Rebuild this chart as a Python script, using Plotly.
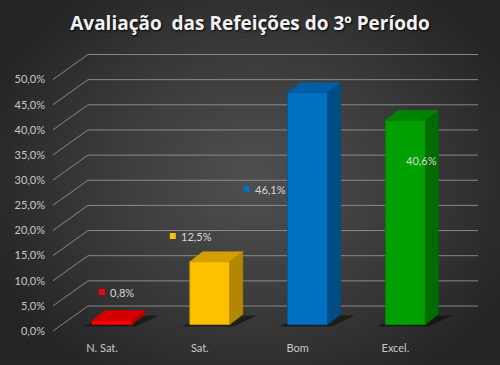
import base64, struct, zlib, math
import plotly.graph_objects as go

# ---------------- data ----------------
CATEGORIES = ["N. Sat.", "Sat.", "Bom", "Excel."]
VALUES = [0.8, 12.5, 46.1, 40.6]
VALUE_LABELS = ["0,8%", "12,5%", "46,1%", "40,6%"]
Y_TICKS = [0, 5, 10, 15, 20, 25, 30, 35, 40, 45, 50]
Y_TICK_LABELS = ["0,0%", "5,0%", "10,0%", "15,0%", "20,0%", "25,0%", "30,0%",
                 "35,0%", "40,0%", "45,0%", "50,0%"]
TITLE = "Avaliação  das Refeições do 3º Período"

# ---------------- styles ----------------
FRONT = ["#ff0000", "#ffc000", "#0070c0", "#00a000"]
TOP = ["#d40000", "#d4a000", "#005ea6", "#008400"]
SIDE = ["#b00000", "#b38800", "#004c85", "#006c00"]
EDGE = ["#c00000", "#c09000", "#005a9a", "#008000"]

W, H = 500, 365
PX_CAT, X0_PX = 97.8, 112.0      # pixels per category, pixel of category 0
PX_PCT, Y0_PX = 5.03, 324.5      # pixels per percent, pixel of 0 %
L, R, T, B = 53, 478, 52, 334    # plot area in pixels

def dx(px):
    return px / PX_CAT

def dy(px):
    return px / PX_PCT

x_range = [(L - X0_PX) / PX_CAT, (R - X0_PX) / PX_CAT]
y_range = [(Y0_PX - B) / PX_PCT, (Y0_PX - T) / PX_PCT]

BAR_W = dx(40)
DEPTH_X, DEPTH_Y = dx(13), dy(10)
FRONT_Y = dy(Y0_PX - 331)        # front-plane offset
BACK_Y = dy(Y0_PX - 306)         # back-wall offset
FRONT_X = (53 - X0_PX) / PX_CAT
BACK_X = (88 - X0_PX) / PX_CAT
RIGHT_X = (478 - X0_PX) / PX_CAT

# label anchor (legend-key square) positions, relative to category / in %
LABEL_DX = [dx(-10), dx(-37), dx(-61), dx(-7)]
LABEL_Y = [dy(Y0_PX - 292), dy(Y0_PX - 236), dy(Y0_PX - 189), dy(Y0_PX - 160)]

# ---------------- background gradient ----------------
def gradient_png(w, h):
    rows = []
    for j in range(h):
        row = bytearray([0])
        for i in range(w):
            px = (i + 0.5) * W / w
            py = (j + 0.5) * H / h
            d = math.sqrt(((px - 255) / 290) ** 2 + ((py - 180) / 240) ** 2)
            d = min(d, 1.0)
            c = int(round(78 - 42 * d ** 1.2))
            row.append(c)
        rows.append(bytes(row))
    raw = b"".join(rows)

    def chunk(tag, data):
        return (struct.pack(">I", len(data)) + tag + data +
                struct.pack(">I", zlib.crc32(tag + data) & 0xffffffff))
    png = b"\x89PNG\r\n\x1a\n"
    png += chunk(b"IHDR", struct.pack(">IIBBBBB", w, h, 8, 0, 0, 0, 0))
    png += chunk(b"IDAT", zlib.compress(raw, 9))
    png += chunk(b"IEND", b"")
    return "data:image/png;base64," + base64.b64encode(png).decode()

bg = gradient_png(125, 91)

fig = go.Figure()

# ---------------- gridlines (shapes below traces) ----------------
shapes = []
for v in Y_TICKS:
    shapes.append(dict(type="line", xref="x", yref="y", layer="below",
                       x0=FRONT_X, y0=v + FRONT_Y, x1=BACK_X, y1=v + BACK_Y,
                       line=dict(color="rgba(150,150,150,0.85)", width=1)))
    shapes.append(dict(type="line", xref="x", yref="y", layer="below",
                       x0=BACK_X, y0=v + BACK_Y, x1=RIGHT_X, y1=v + BACK_Y,
                       line=dict(color="rgba(150,150,150,0.85)", width=1)))

# shadows under bars
for i in range(len(VALUES)):
    xl = i - BAR_W / 2
    xr = i + BAR_W / 2
    path = (f"M {xl - dx(8)},{-dy(2)} L {xr + dx(4)},{-dy(2)} "
            f"L {xr + DEPTH_X + dx(14)},{DEPTH_Y - dy(1)} "
            f"L {xl + DEPTH_X},{DEPTH_Y - dy(1)} Z")
    shapes.append(dict(type="path", xref="x", yref="y", layer="below", path=path,
                       fillcolor="rgba(0,0,0,0.45)", line=dict(width=0)))

# ---------------- bars ----------------
fig.add_trace(go.Bar(
    x=list(range(len(VALUES))), y=VALUES, width=BAR_W,
    marker=dict(color=FRONT, line=dict(color=EDGE, width=1)),
    hoverinfo="skip", showlegend=False))

for i, v in enumerate(VALUES):
    xl = i - BAR_W / 2
    xr = i + BAR_W / 2
    # top face
    fig.add_trace(go.Scatter(
        x=[xl, xr, xr + DEPTH_X, xl + DEPTH_X, xl],
        y=[v, v, v + DEPTH_Y, v + DEPTH_Y, v],
        mode="lines", fill="toself", fillcolor=TOP[i],
        line=dict(color=TOP[i], width=0.5), hoverinfo="skip", showlegend=False))
    # side face
    fig.add_trace(go.Scatter(
        x=[xr, xr, xr + DEPTH_X, xr + DEPTH_X, xr],
        y=[0, v, v + DEPTH_Y, DEPTH_Y, 0],
        mode="lines", fill="toself", fillcolor=SIDE[i],
        line=dict(color=SIDE[i], width=0.5), hoverinfo="skip", showlegend=False))

# ---------------- data labels ----------------
label_x = [i + LABEL_DX[i] for i in range(len(VALUES))]
fig.add_trace(go.Scatter(
    x=label_x, y=LABEL_Y, mode="markers",
    marker=dict(symbol="square", size=6, color=FRONT),
    hoverinfo="skip", showlegend=False))
annotations = []
for i, t in enumerate(VALUE_LABELS):
    annotations.append(dict(x=label_x[i], y=LABEL_Y[i], xref="x", yref="y",
                            text=t, showarrow=False, xanchor="left",
                            yanchor="middle", xshift=6,
                            font=dict(family="Lato", size=11, color="#d9d9d9")))

fig.update_layout(
    width=W, height=H,
    margin=dict(l=L, r=W - R, t=T, b=H - B, pad=0),
    paper_bgcolor="#2b2b2b", plot_bgcolor="rgba(0,0,0,0)",
    images=[dict(source=bg, xref="paper", yref="paper",
                 x=-L / (R - L), y=1 + T / (B - T),
                 sizex=W / (R - L), sizey=H / (B - T),
                 xanchor="left", yanchor="top", sizing="stretch", layer="below")],
    shapes=shapes,
    annotations=annotations,
    title=dict(text=TITLE, x=0.5, xref="container", xanchor="center",
               y=1 - 23 / H, yref="container", yanchor="middle",
               font=dict(family="Open Sans", size=19, color="#f2f2f2", weight=700,
                         shadow="1px 1px 2px rgba(0,0,0,0.9)")),
    xaxis=dict(range=x_range, showgrid=False, zeroline=False, showline=False,
               tickvals=[i - dx(10) for i in range(len(CATEGORIES))],
               ticktext=CATEGORIES, ticks="", ticklabelstandoff=6,
               tickfont=dict(family="Lato", size=11, color="#c8c8c8"),
               fixedrange=True),
    yaxis=dict(range=y_range, showgrid=False, zeroline=False, showline=False,
               tickvals=[v + FRONT_Y for v in Y_TICKS], ticktext=Y_TICK_LABELS,
               ticks="", ticklabelstandoff=7,
               tickfont=dict(family="Lato", size=11, color="#c8c8c8"),
               fixedrange=True),
    showlegend=False,
)

fig.write_html("out.html", config={"displayModeBar": False},
               post_script="document.body.style.margin='0';")
